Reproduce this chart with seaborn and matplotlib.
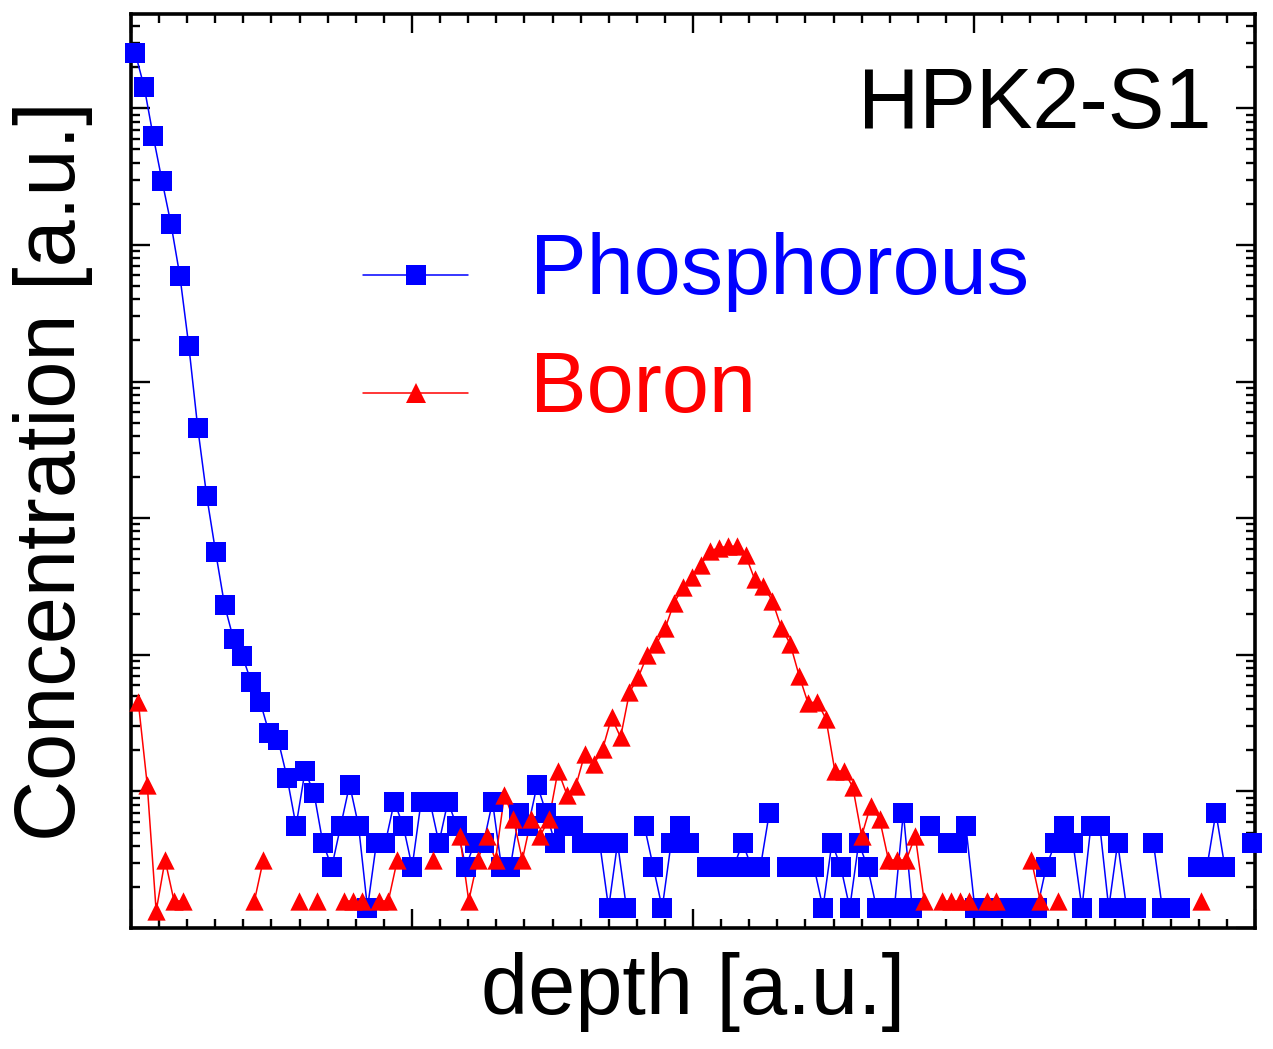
import numpy as np
import pandas as pd
import matplotlib
matplotlib.use("Agg")
import matplotlib.pyplot as plt
from matplotlib.lines import Line2D
from matplotlib.legend_handler import HandlerLine2D
from matplotlib.ticker import MultipleLocator, LogLocator, NullFormatter
import seaborn as sns

# ---------------- data ----------------
SERIES_NAMES = ["Phosphorous", "Boron"]
SERIES_COLORS = ["#0000FF", "#FF0000"]
SAMPLE_LABEL = "HPK2-S1"
X_LABEL = "depth [a.u.]"
Y_LABEL = "Concentration [a.u.]"

# regular SIMS depth sampling grid (a.u.)
DEPTH_STEP = 0.3178
P_DEPTH_START = 0.153
B_DEPTH_START = 0.260

# 0 = no counts (not drawn on a log axis)
phosphorous = [
    2.53e6, 1.43e6, 6.28e5, 2.94e5, 1.42e5, 5.90e4, 1.81e4, 4550, 1446, 563,
    230, 130, 97.5, 62.9, 44.9, 26.6, 23.7, 12.6, 5.60, 14.0,
    9.81, 4.20, 2.80, 5.60, 11.2, 5.60, 1.40, 4.20, 4.20, 8.41,
    5.60, 2.80, 8.41, 8.41, 4.20, 8.41, 5.60, 2.80, 4.20, 4.20,
    8.41, 2.80, 2.80, 7.00, 5.60, 11.2, 7.00, 4.20, 5.60, 5.60,
    4.20, 4.20, 4.20, 1.40, 4.20, 1.40, 0, 5.60, 2.80, 1.40,
    4.20, 5.60, 4.20, 0, 2.80, 2.80, 2.80, 2.80, 4.20, 2.80,
    2.80, 7.00, 0, 2.80, 2.80, 2.80, 2.80, 1.40, 4.20, 2.80,
    1.40, 4.20, 2.80, 1.40, 1.40, 1.40, 7.00, 1.40, 0, 5.60,
    0, 4.20, 4.20, 5.60, 1.40, 1.40, 1.40, 1.40, 1.40, 1.40,
    1.40, 1.40, 2.80, 4.20, 5.60, 4.20, 1.40, 5.60, 5.60, 1.40,
    4.20, 1.40, 1.40, 0, 4.20, 1.40, 1.40, 1.40, 0, 2.80,
    2.80, 7.00, 2.80, 0, 0, 4.20,
]

boron = [
    45.1, 11.2, 1.33, 3.15, 1.58, 1.58, 0, 0, 0, 0,
    0, 0, 0, 1.58, 3.15, 0, 0, 0, 1.58, 0,
    1.58, 0, 0, 1.58, 1.58, 1.58, 0, 1.58, 1.58, 3.15,
    0, 0, 0, 3.15, 0, 0, 4.73, 1.58, 3.15, 4.73,
    3.15, 9.46, 6.31, 3.15, 6.31, 4.73, 6.31, 14.2, 9.46, 11.0,
    18.9, 15.8, 20.5, 34.8, 24.9, 53.2, 68.8, 99.7, 120, 157,
    241, 311, 373, 454, 577, 605, 624, 624, 535, 360,
    320, 248, 158, 120, 70.2, 44.2, 45.4, 34.0, 14.1, 14.1,
    10.8, 4.73, 7.88, 6.31, 3.15, 3.15, 3.15, 4.73, 1.58, 0,
    1.58, 1.58, 1.58, 1.58, 0, 1.58, 1.58, 0, 0, 0,
    3.15, 1.58, 0, 1.58, 0, 0, 0, 0, 0, 0,
    0, 0, 0, 0, 0, 0, 0, 0, 0, 1.58,
    0, 0, 0, 0, 0, 0,
]


def to_frame(values, start):
    v = np.asarray(values, dtype=float)
    depth = start + DEPTH_STEP * np.arange(len(v))
    seg = np.cumsum(v <= 0)           # break line where counts are zero
    df = pd.DataFrame({"depth": depth, "conc": v, "segment": seg})
    return df[df["conc"] > 0].reset_index(drop=True)


df_p = to_frame(phosphorous, P_DEPTH_START)
df_b = to_frame(boron, B_DEPTH_START)

# ---------------- style ----------------
sns.set_style("ticks")
plt.rcParams["font.family"] = ["Liberation Sans", "DejaVu Sans"]
plt.rcParams["text.color"] = "black"
plt.rcParams["axes.labelcolor"] = "black"
FS = 61

fig = plt.figure(figsize=(12.73, 10.49), dpi=100)
ax = fig.add_axes([0.1029, 0.1153, 0.8830, 0.8713])
ax.set_yscale("log")

for df, col, mk, size in [(df_p, SERIES_COLORS[0], "s", 188),
                          (df_b, SERIES_COLORS[1], "^", 174)]:
    sns.lineplot(data=df, x="depth", y="conc", units="segment", estimator=None,
                 sort=False, color=col, lw=1.1, ax=ax, legend=False, zorder=2)
    sns.scatterplot(data=df, x="depth", y="conc", marker=mk, s=size, color=col,
                    linewidth=0, ax=ax, legend=False, clip_on=False, zorder=3)

ax.set_xlim(0, 40)
ax.set_ylim(1, 4.9e6)

ax.xaxis.set_major_locator(MultipleLocator(10))
ax.xaxis.set_minor_locator(MultipleLocator(1))
ax.yaxis.set_major_locator(LogLocator(base=10, numticks=100))
ax.yaxis.set_minor_locator(LogLocator(base=10, subs=np.arange(2, 10), numticks=100))
ax.xaxis.set_major_formatter(NullFormatter())
ax.xaxis.set_minor_formatter(NullFormatter())
ax.yaxis.set_major_formatter(NullFormatter())
ax.yaxis.set_minor_formatter(NullFormatter())

ax.tick_params(which="both", direction="in", top=True, right=True,
               bottom=True, left=True, width=1.7, color="black",
               labelbottom=False, labelleft=False)
ax.tick_params(which="major", length=13.5)
ax.tick_params(which="minor", length=6.8)
for sp in ax.spines.values():
    sp.set_visible(True)
    sp.set_linewidth(2.6)
    sp.set_color("black")

ax.set_xlabel(X_LABEL, fontsize=FS, labelpad=17, color="black")
ax.set_ylabel(Y_LABEL, fontsize=FS, labelpad=27, color="black")

ax.text(0.9617, 0.8753, SAMPLE_LABEL, transform=ax.transAxes,
        ha="right", va="baseline", fontsize=FS, color="black")


class LoweredLine(HandlerLine2D):
    """Legend handle drawn a little below the label's centre (Origin style)."""
    DROP = 7.9  # points

    def create_artists(self, legend, orig_handle, xdescent, ydescent,
                       width, height, fontsize, trans):
        return super().create_artists(legend, orig_handle, xdescent,
                                      ydescent + 2 * self.DROP, width, height,
                                      fontsize, trans)


handles = [
    Line2D([], [], color=SERIES_COLORS[0], lw=1.1, marker="s",
           markersize=13.7, markeredgewidth=0),
    Line2D([], [], color=SERIES_COLORS[1], lw=1.1, marker="^",
           markersize=13.7, markeredgewidth=0),
]
ax.legend(handles, SERIES_NAMES, loc="upper left",
          bbox_to_anchor=(0.2064, 0.762), frameon=False, fontsize=FS,
          handlelength=1.24, handletextpad=0.73, labelspacing=0.45,
          borderpad=0, borderaxespad=0, labelcolor=SERIES_COLORS,
          handler_map={Line2D: LoweredLine(numpoints=1)})

fig.savefig("out.png", dpi=100)
